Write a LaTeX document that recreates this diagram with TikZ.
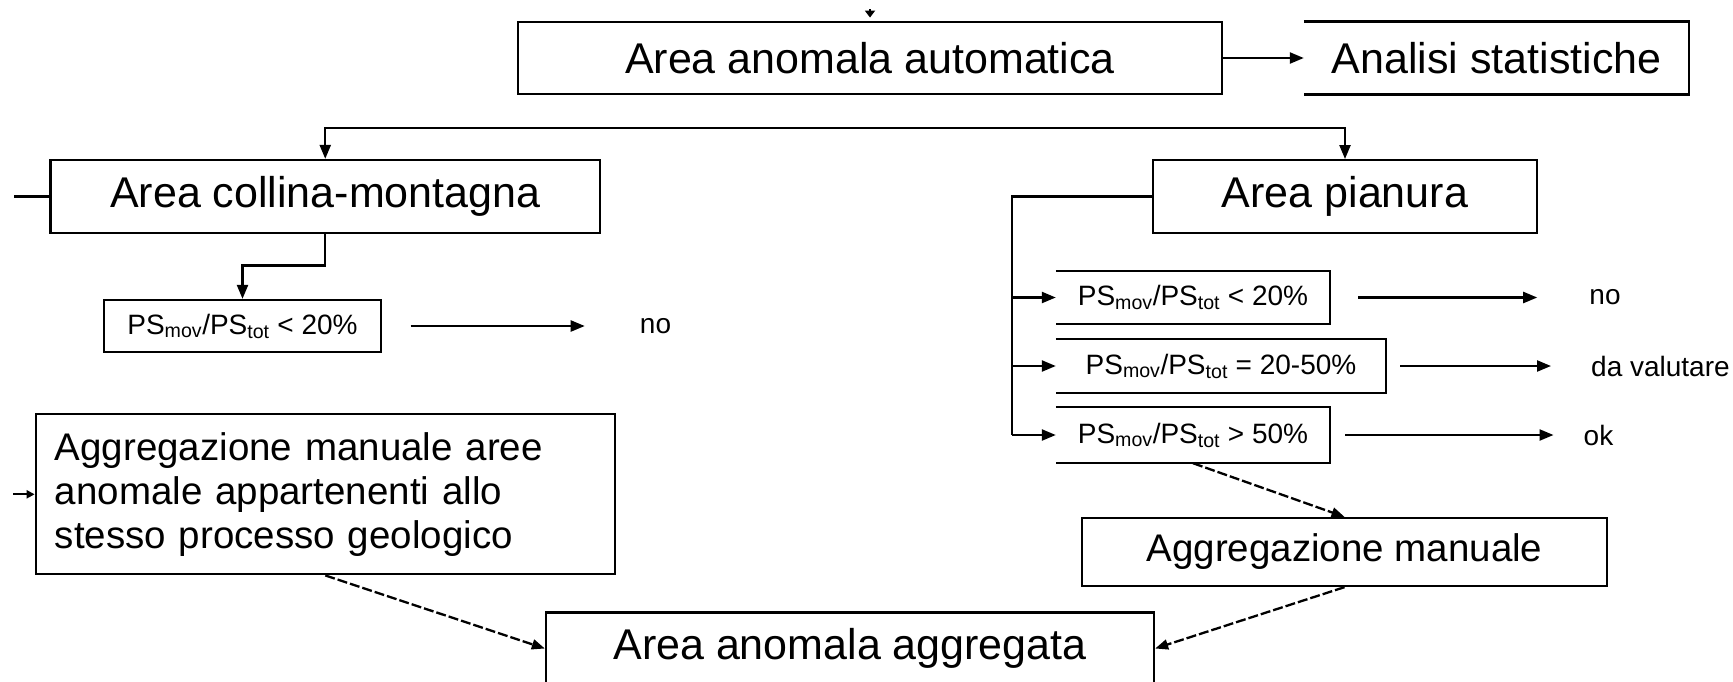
\documentclass[tikz,border=0pt]{standalone}
\usepackage{fontspec}
\setmainfont{Liberation Sans}
\usetikzlibrary{arrows.meta,calc}
\begin{document}
\begin{tikzpicture}[x=1pt,y=-1pt,
  box/.style={draw=black,line width=2.3pt,inner sep=0pt,align=center},
  openbox/.style={inner sep=0pt,align=center},
  big/.style={font=\fontsize{43}{50}\selectfont},
  mid/.style={font=\fontsize{38.5}{44}\selectfont},
  small/.style={font=\fontsize{28}{32}\selectfont},
  line/.style={line width=2.3pt},
  arr/.style={line width=2.3pt,-{Triangle[length=14pt,width=11pt]}},
  dasharr/.style={line width=2.3pt,dash pattern=on 10pt off 3pt,-{Triangle[length=13pt,width=10pt]}},
]
\useasboundingbox (0,0) rectangle (1733,681);
\clip (0,0) rectangle (1733,681);
\fill[white] (0,0) rectangle (1733,681);

% nodes
\node[box,big,minimum width=704pt,minimum height=72.6pt] (auto) at (870,58) {Area anomala automatica};
\node[openbox,big,minimum width=385pt,minimum height=72.6pt] (stat) at (1496.5,58) {Analisi statistiche};
\draw[line] (stat.north west) -- (stat.north east) -- (stat.south east) -- (stat.south west);

\node[box,big,minimum width=549.5pt,minimum height=73pt] (coll) at (325.25,196.5) {Area collina-montagna};
\node[box,big,minimum width=384pt,minimum height=72.7pt] (pian) at (1345,196.5) {Area pianura};

\node[box,small,minimum width=277pt,minimum height=52pt] (psL) at (242.5,326) {PS\textsubscript{mov}/PS\textsubscript{tot} < 20\%};
\node[small,inner sep=0pt] (noL) at (655.5,326) {no};

\node[box,mid,align=left,text width=541pt,inner xsep=19pt,minimum height=160pt] (aggL) at (325.3,494.3) {\rule{0pt}{10pt}Aggregazione manuale aree\\anomale appartenenti allo\\stesso processo geologico};

\node[openbox,small,minimum width=274pt,minimum height=53pt] (ps1) at (1193,297.5) {PS\textsubscript{mov}/PS\textsubscript{tot} < 20\%};
\node[openbox,small,minimum width=330pt,minimum height=54pt] (ps2) at (1221,366) {PS\textsubscript{mov}/PS\textsubscript{tot} = 20-50\%};
\node[openbox,small,minimum width=274pt,minimum height=56pt] (ps3) at (1193,435) {PS\textsubscript{mov}/PS\textsubscript{tot} > 50\%};
\foreach \n in {ps1,ps2,ps3}{
  \draw[line] (\n.north west) -- (\n.north east) -- (\n.south east) -- (\n.south west);
}

\node[small,inner sep=0pt] (no1) at (1605,297.5) {no};
\node[small,inner sep=0pt,anchor=west] (dv) at (1591,366) {da valutare};
\node[small,inner sep=0pt] (ok) at (1598.5,435) {ok};

\node[box,mid,minimum width=525pt,minimum height=68pt] (aggM) at (1344.5,552) {Aggregazione manuale};
\node[box,big,minimum width=608pt,minimum height=72pt] (aggr) at (850,648.5) {Area anomala aggregata};

% connectors
\coordinate (top) at (870,9);
\draw[line,-{Triangle[length=7pt,width=10pt]},shorten >=3pt] (top) -- (auto.north);
\draw[arr] (auto.east) -- (stat.west);

\coordinate (hr) at (1345,128.3);
\draw[line,{Triangle[length=14pt,width=11pt]}-{Triangle[length=14pt,width=11pt]}] (coll.north) |- (hr) -- (pian.north);

\coordinate (stub) at (14,196.5);
\draw[line] (stub) -- (coll.west);
\draw[arr] (coll.south) -- ++(0,31.3) -| (psL.north);
\draw[arr,shorten <=28.5pt,shorten >=55pt] (psL.east) -- (noL.west);

\coordinate (inL) at (13,494.3);
\draw[line,-{Triangle[length=8pt,width=8pt]}] (inL) -- (aggL.west);
\draw[dasharr] (aggL.south) -- (aggr.west);

\coordinate (vb) at (1012,435);
\draw[line] (pian.west) -| (vb);
\draw[arr] (vb) -- (ps3.west);
\draw[arr] (vb |- ps1.west) -- (ps1.west);
\draw[arr] (vb |- ps2.west) -- (ps2.west);

\draw[arr,shorten <=28pt,shorten >=52pt] (ps1.east) -- (no1.west);
\draw[arr,shorten <=14pt,shorten >=40pt] (ps2.east) -- (dv.west);
\draw[arr,shorten <=15pt,shorten >=30pt] (ps3.east) -- (ok.west);

\draw[dasharr] (ps3.south) -- (aggM.north);
\draw[dasharr] (aggM.south) -- (aggr.east);
\end{tikzpicture}
\end{document}
